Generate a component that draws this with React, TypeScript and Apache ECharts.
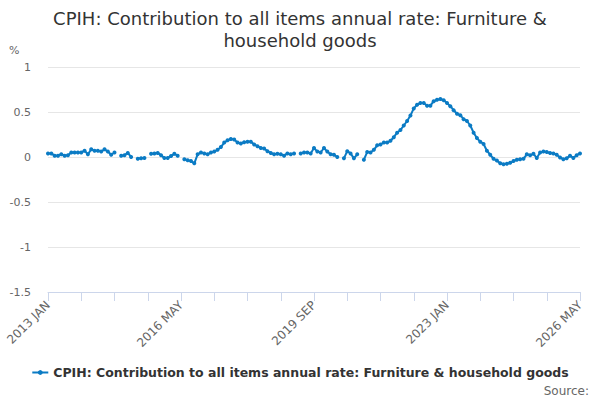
import React, { useEffect, useRef } from "react";
import * as echarts from "echarts";

const MONTHS = ["JAN", "FEB", "MAR", "APR", "MAY", "JUN", "JUL", "AUG", "SEP", "OCT", "NOV", "DEC"];
const START_YEAR = 2013;
const POINT_COUNT = 161; // 2013 JAN .. 2026 MAY

const categories: string[] = [];
for (let k = 0; k < POINT_COUNT; k++) {
  categories.push(`${START_YEAR + Math.floor(k / 12)} ${MONTHS[k % 12]}`);
}

const values2013to2016: (number | null)[] = [
  0.04, 0.04, 0.015, 0.015, 0.03, 0.015, 0.02, 0.05, 0.05, 0.05, 0.05, 0.07,
  0.03, 0.085, 0.07, 0.07, 0.06, 0.085, 0.06, 0.025, 0.05, null, 0.015, 0.02,
  0.045, 0.0, null, -0.02, -0.015, -0.01, null, 0.035, 0.04, 0.045, 0.02, -0.01,
  -0.01, 0.01, 0.035, 0.015,
];
const values2016to2019: (number | null)[] = [
  null, -0.025, -0.035, -0.045, -0.07, 0.03, 0.05, 0.04, 0.03, 0.05, 0.06, 0.08,
  0.11, 0.16, 0.185, 0.2, 0.195, 0.16, 0.15, 0.165, 0.17, 0.17, 0.14, 0.12,
  0.1, 0.095, 0.065, 0.045, 0.03, 0.035, 0.03, 0.015, 0.04, 0.03, 0.04, null,
  0.04, 0.05, 0.05, 0.04,
];
const values2019to2023: (number | null)[] = [
  0.1, 0.06, 0.05, 0.1, 0.06, 0.03, 0.025, 0.0, null, -0.015, 0.065, 0.04,
  -0.015, 0.03, null, -0.03, 0.055, 0.05, 0.08, 0.13, 0.14, 0.16, 0.16, 0.18,
  0.22, 0.27, 0.3, 0.35, 0.4, 0.46, 0.54, 0.58, 0.6, 0.6, 0.57, 0.57,
  0.62, 0.635, 0.645, 0.63,
];
const values2023to2026: (number | null)[] = [
  0.6, 0.565, 0.52, 0.48, 0.465, 0.42, 0.4, 0.35, 0.27, 0.21, 0.17, 0.145,
  0.07, 0.025, -0.02, -0.04, -0.07, -0.08, -0.075, -0.065, -0.045, -0.03, -0.025, -0.02,
  0.03, 0.02, 0.035, -0.01, 0.05, 0.06, 0.055, 0.045, 0.04, 0.025, -0.005, -0.025,
  -0.015, 0.015, -0.01, 0.02, 0.04,
];
const seriesValues = [
  ...values2013to2016,
  ...values2016to2019,
  ...values2019to2023,
  ...values2023to2026,
];

const SERIES_NAME = "CPIH: Contribution to all items annual rate: Furniture & household goods";
const TITLE = "CPIH: Contribution to all items annual rate: Furniture &\nhousehold goods";
const Y_MIN = -1.5;
const Y_MAX = 1;
const Y_STEP = 0.5;

export default function App() {
  const ref = useRef<HTMLDivElement>(null);
  useEffect(() => {
    if (!ref.current) return;
    const chart = echarts.init(ref.current, undefined, { renderer: "svg" });
    const font = "'DejaVu Sans', sans-serif";
    chart.setOption({
      animation: false,
      textStyle: { fontFamily: font },
      grid: { left: 48, right: 20, top: 67, bottom: 108, containLabel: false },
      legend: {
        bottom: 16,
        left: "center",
        itemWidth: 16,
        itemHeight: 6,
        itemGap: 6,
        textStyle: { fontSize: 12.5, fontWeight: "bold", color: "#333333", fontFamily: font },
        data: [SERIES_NAME],
      },
      graphic: [
        {
          type: "text",
          x: 300,
          y: 7,
          style: {
            text: TITLE,
            fontSize: 18,
            lineHeight: 22,
            fill: "#333333",
            fontFamily: font,
            align: "center",
            verticalAlign: "top",
          },
        },
        { type: "text", left: 9, top: 45, style: { text: "%", fontSize: 11, fill: "#666666", fontFamily: font } },
        { type: "text", right: 11, bottom: 3, style: { text: "Source:", fontSize: 12, fill: "#666666", fontFamily: font } },
      ],
      xAxis: {
        type: "category",
        data: categories,
        boundaryGap: false,
        axisLine: { onZero: false, lineStyle: { color: "#ccd6eb", width: 1 } },
        axisTick: {
          show: true,
          length: 9,
          interval: (idx: number) => idx % 10 === 0,
          lineStyle: { color: "#ccd6eb" },
        },
        axisLabel: {
          interval: (idx: number) => idx % 40 === 0,
          rotate: 45,
          fontSize: 12,
          color: "#666666",
          margin: 11,
          fontFamily: font,
        },
        splitLine: { show: false },
      },
      yAxis: {
        type: "value",
        min: Y_MIN,
        max: Y_MAX,
        interval: Y_STEP,
        axisLine: { show: false },
        axisTick: { show: false },
        axisLabel: { fontSize: 11, color: "#666666", margin: 17, fontFamily: font },
        splitLine: { lineStyle: { color: "#e6e6e6", width: 1 } },
      },
      series: [
        {
          name: SERIES_NAME,
          type: "line",
          data: seriesValues,
          connectNulls: false,
          symbol: "circle",
          symbolSize: 4,
          showSymbol: true,
          showAllSymbol: true,
          lineStyle: { color: "#0b7bc4", width: 2 },
          itemStyle: { color: "#0b7bc4" },
        },
      ],
    });
    return () => chart.dispose();
  }, []);
  return (
    <div
      ref={ref}
      style={{ position: "absolute", left: 0, top: 0, width: 600, height: 400 }}
    />
  );
}
